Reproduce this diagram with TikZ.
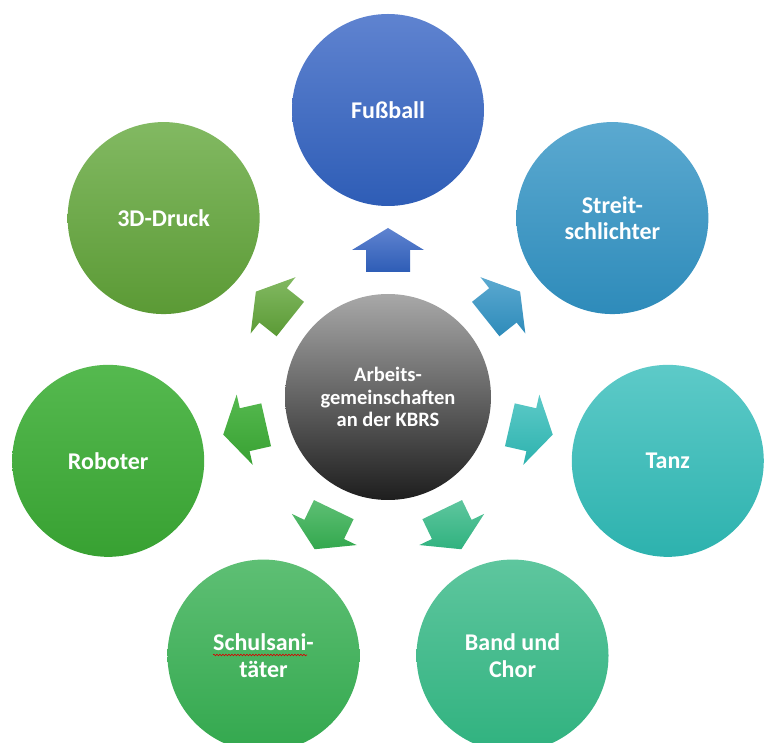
\documentclass[tikz,border=0pt]{standalone}
\usepackage{fontspec}
\setmainfont{Carlito}
\usetikzlibrary{calc,decorations.pathmorphing}
\definecolor{fbT}{HTML}{5F83D0}\definecolor{fbB}{HTML}{2E5DB6}
\definecolor{stT}{HTML}{5BA9D0}\definecolor{stB}{HTML}{2E8BBA}
\definecolor{taT}{HTML}{5DCAC8}\definecolor{taB}{HTML}{2DB2AE}
\definecolor{baT}{HTML}{5EC69E}\definecolor{baB}{HTML}{30B27F}
\definecolor{scT}{HTML}{5EBF74}\definecolor{scB}{HTML}{33A84E}
\definecolor{roT}{HTML}{55B94F}\definecolor{roB}{HTML}{38A132}
\definecolor{ddT}{HTML}{82B962}\definecolor{ddB}{HTML}{5B9A35}
\definecolor{hubT}{HTML}{A8A8A8}\definecolor{hubB}{HTML}{1E1E1E}
\tikzset{
  outer/.style={circle, minimum size=192pt, inner sep=0pt, text=white, align=center,
    font=\bfseries\fontsize{24}{26.5}\selectfont},
  hubstyle/.style={circle, minimum size=206pt, inner sep=0pt, text=white, align=center,
    font=\bfseries\fontsize{20.5}{22.5}\selectfont, top color=hubT, bottom color=hubB},
}
\begin{document}
\begin{tikzpicture}[x=1pt,y=1pt]
\useasboundingbox (0,0) rectangle (766,742);
\clip (0,0) rectangle (766,742);
\node[hubstyle] (hub) at (388,345) {Arbeits-\\gemeinschaften\\an der KBRS};
\node[outer, top color=fbT, bottom color=fbB] (fb) at ($(hub.center)+(90:287)$) {Fußball};
\node[outer, top color=stT, bottom color=stB] (st) at ($(hub.center)+(38.571:287)$) {Streit-\\schlichter};
\node[outer, top color=taT, bottom color=taB] (ta) at ($(hub.center)+(-12.857:287)$) {Tanz};
\node[outer, top color=baT, bottom color=baB] (ba) at ($(hub.center)+(-64.286:287)$) {Band und\\Chor};
\node[outer, top color=scT, bottom color=scB] (sc) at ($(hub.center)+(-115.714:287)$) {Schulsani-\\täter};
\node[outer, top color=roT, bottom color=roB] (ro) at ($(hub.center)+(-167.143:287)$) {Roboter};
\node[outer, top color=ddT, bottom color=ddB] (dd) at ($(hub.center)+(141.429:287)$) {3D-Druck};
\foreach \a/\t/\b in {90/fbT/fbB, 38.571/stT/stB, -12.857/taT/taB, -64.286/baT/baB,
                      -115.714/scT/scB, -167.143/roT/roB, 141.429/ddT/ddB} {
  \shade[top color=\t, bottom color=\b]
    ($(hub.center)+(\a:125)+({\a+90}:22)$) --
    ($(hub.center)+(\a:147)+({\a+90}:22)$) --
    ($(hub.center)+(\a:147)+({\a+90}:36)$) --
    ($(hub.center)+(\a:169)$) --
    ($(hub.center)+(\a:147)+({\a-90}:36)$) --
    ($(hub.center)+(\a:147)+({\a-90}:22)$) --
    ($(hub.center)+(\a:125)+({\a-90}:22)$) -- cycle;
}
\draw[red!85!black, line width=0.6pt, decorate, decoration={snake, amplitude=0.8pt, segment length=3pt}]
  (213,87) -- (307,87);
\end{tikzpicture}
\end{document}
